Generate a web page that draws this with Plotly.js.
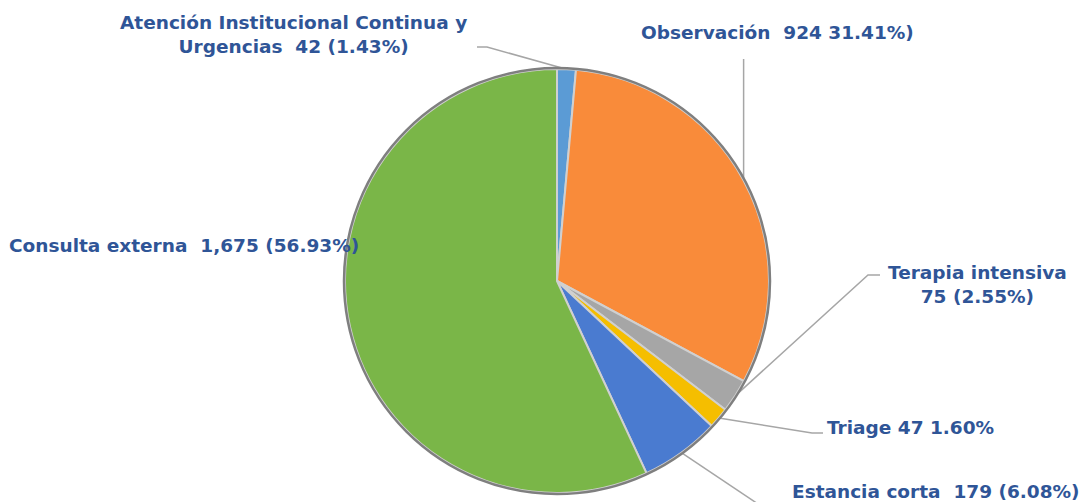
<!DOCTYPE html>
<html>
<head>
<meta charset="utf-8">
<script src="https://cdn.plot.ly/plotly-3.0.1.min.js"></script>
<style>html,body{margin:0;padding:0;background:#fff;}#chart{width:1082px;height:502px;}</style>
</head>
<body>
<div id="chart"></div>
<script>
// ---- data ----
const categories = ["Atención Institucional Continua y Urgencias", "Observación", "Terapia intensiva", "Triage", "Estancia corta", "Consulta externa"];
const values = [42, 924, 75, 47, 179, 1675];
const labelTexts = [
  "Atención Institucional Continua y<br>Urgencias  42 (1.43%)",
  "Observación  924 31.41%)",
  "Terapia intensiva<br>75 (2.55%)",
  "Triage 47 1.60%",
  "Estancia corta  179 (6.08%)",
  "Consulta externa  1,675 (56.93%)"
];
const colors = ["#5B9BD5", "#F98B3A", "#A6A6A6", "#F5BE00", "#4A7BD0", "#7AB648"];

// ---- layout config (positions in pixels) ----
const W = 1082, H = 502;
const cx = 557, cy = 281, R = 212;
const labelPos = [
  {x: 293, y: 35, elbow: [477, 47], lead: true},
  {x: 777, y: 33, elbow: [743, 59], lead: true, vertical: true},
  {x: 977, y: 284, elbow: [880, 275], lead: true, elbow2: [868, 275]},
  {x: 910, y: 427, elbow: [823, 433], lead: true, elbow2: [812, 433]},
  {x: 936, y: 491, elbow: [770, 512], lead: true},
  {x: 184, y: 245, lead: false}
];

const px = x => x / W;
const py = y => 1 - y / H;

const total = values.reduce((a, b) => a + b, 0);
let cum = 0;
const shapes = [];
const annotations = [];
values.forEach((v, i) => {
  const mid = (cum + v / 2) / total * 2 * Math.PI;
  cum += v;
  const ex = cx + R * Math.sin(mid);
  const ey = cy - R * Math.cos(mid);
  const lp = labelPos[i];
  if (lp.lead) {
    let path;
    if (lp.vertical) {
      path = `M ${px(ex)} ${py(ey)} L ${px(ex)} ${py(lp.elbow[1])}`;
    } else if (lp.elbow2) {
      path = `M ${px(ex)} ${py(ey)} L ${px(lp.elbow2[0])} ${py(lp.elbow2[1])} L ${px(lp.elbow[0])} ${py(lp.elbow[1])}`;
    } else if (i === 0) {
      path = `M ${px(ex)} ${py(ey)} L ${px(lp.elbow[0] + 10)} ${py(lp.elbow[1])} L ${px(lp.elbow[0])} ${py(lp.elbow[1])}`;
    } else {
      path = `M ${px(ex)} ${py(ey)} L ${px(lp.elbow[0])} ${py(lp.elbow[1])}`;
    }
    shapes.push({type: 'path', xref: 'paper', yref: 'paper', path: path,
      line: {color: '#A6A6A6', width: 1.5}, layer: 'below'});
  }
  annotations.push({
    xref: 'paper', yref: 'paper', x: px(lp.x), y: py(lp.y),
    xanchor: 'center', yanchor: 'middle', showarrow: false,
    text: '<b>' + labelTexts[i] + '</b>', align: 'center',
    font: {family: 'DejaVu Sans', size: 18.5, color: '#2F5597'}
  });
});

// outer rim
shapes.push({type: 'circle', xref: 'paper', yref: 'paper',
  x0: px(cx - R - 1), x1: px(cx + R + 1), y0: py(cy + R + 1), y1: py(cy - R - 1),
  line: {color: '#7F7F7F', width: 2.5}, fillcolor: 'rgba(0,0,0,0)', layer: 'above'});

const trace = {
  type: 'pie',
  labels: categories,
  values: values,
  sort: false,
  direction: 'clockwise',
  rotation: 0,
  textinfo: 'none',
  hoverinfo: 'skip',
  marker: {colors: colors, line: {color: '#D0D0D0', width: 2}},
  domain: {x: [px(cx - R), px(cx + R)], y: [py(cy + R), py(cy - R)]},
  showlegend: false
};

const layout = {
  width: W, height: H,
  margin: {l: 0, r: 0, t: 0, b: 0},
  paper_bgcolor: '#ffffff', plot_bgcolor: '#ffffff',
  showlegend: false,
  shapes: shapes,
  annotations: annotations
};

Plotly.newPlot('chart', [trace], layout, {displayModeBar: false, staticPlot: true});
</script>
</body>
</html>
